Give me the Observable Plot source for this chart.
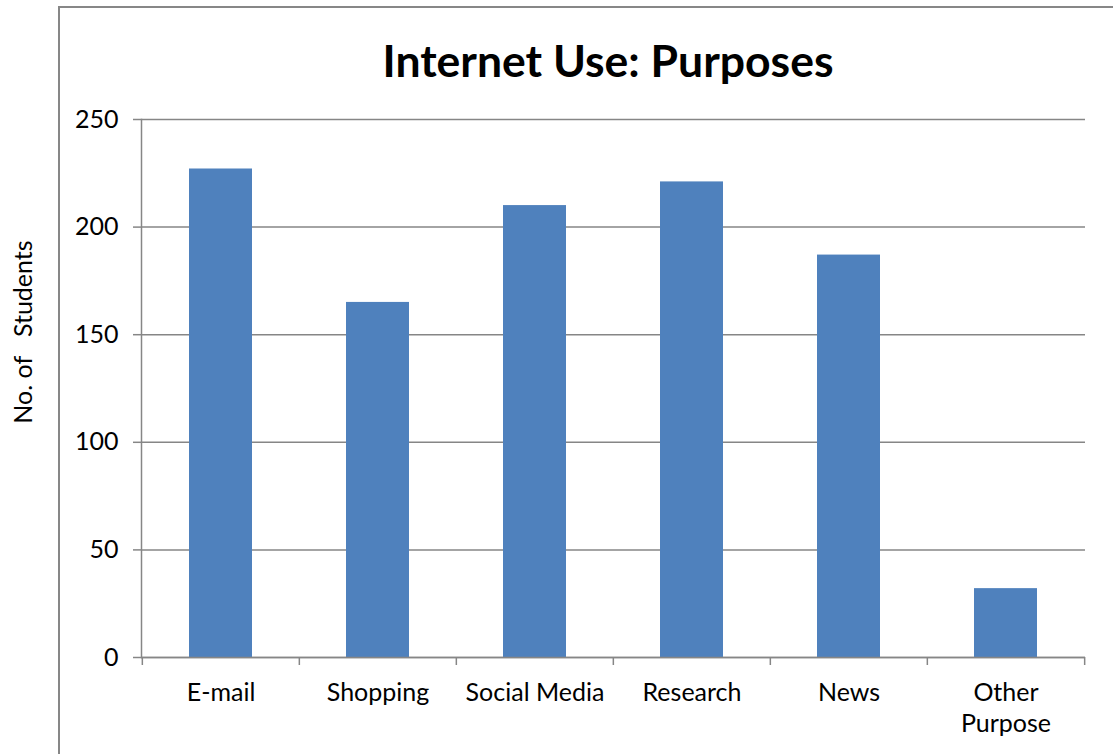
<!DOCTYPE html>
<html><head><meta charset="utf-8">
<script src="https://cdn.jsdelivr.net/npm/d3@7"></script>
<script src="https://cdn.jsdelivr.net/npm/@observablehq/plot@0.6"></script>
<style>
body{margin:0;background:#fff;}
#wrap{position:relative;width:1113px;height:754px;overflow:hidden;font-family:Lato,sans-serif;background:#fff;}
#frame{position:absolute;left:58px;top:6px;width:1200px;height:900px;border:2px solid #878787;box-sizing:border-box;}
#title{position:absolute;left:258px;width:700px;top:38px;text-align:center;font-weight:bold;font-size:44.5px;line-height:1;color:#000;}
#ylab{position:absolute;left:22px;top:332px;transform:translate(-50%,-50%) rotate(-90deg);white-space:pre;font-size:25px;color:#000;}
#chart{position:absolute;left:0;top:0;}
</style></head>
<body>
<div id="wrap">
  <div id="frame"></div>
  <div id="chart"></div>
  <div id="title">Internet Use: Purposes</div>
  <div id="ylab">No. of   Students</div>
</div>
<script>
const categories = ["E-mail","Shopping","Social Media","Research","News","Other Purpose"];
const students = [227,165,210,221,187,32];
const tickLabels = ["E-mail","Shopping","Social Media","Research","News","Other\nPurpose"];
const yTicks = [0,50,100,150,200,250];
const data = categories.map((c,i)=>({category:c, value:students[i]}));

const W=1113, H=754, mL=141, mR=28, mT=119, mB=97;
const step = (W-mL-mR)/categories.length;
const gray = "#868686";

const chart = Plot.plot({
  width:W, height:H, marginLeft:mL, marginRight:mR, marginTop:mT, marginBottom:mB,
  style:{fontFamily:"Lato, sans-serif", fontSize:"25px", color:"#000", background:"transparent", overflow:"visible"},
  x:{domain:categories, paddingInner:0.6, paddingOuter:0.3, label:null},
  y:{domain:[0,250], ticks:yTicks, label:null},
  marks:[
    Plot.gridY(yTicks,{stroke:gray, strokeOpacity:1, strokeWidth:1.5}),
    Plot.barY(data,{x:"category", y:"value", fill:"#4F81BD"}),
    Plot.ruleY([0],{stroke:gray, strokeWidth:1.5}),
    Plot.frame({anchor:"left", stroke:gray, strokeWidth:1.5}),
    Plot.axisY(yTicks,{tickSize:8, tickPadding:15, stroke:gray, strokeWidth:1.5, fill:"#000", fontSize:25}),
    Plot.axisX({tickSize:8, dx:-step/2, stroke:gray, strokeWidth:1.5, fill:"none"}),
    Plot.axisX([categories[categories.length-1]],{tickSize:8, dx:step/2, stroke:gray, strokeWidth:1.5, fill:"none"}),
    Plot.axisX({tickSize:0, tickPadding:21, fill:"#000", fontSize:25, lineHeight:1.25,
      tickFormat: c => tickLabels[categories.indexOf(c)]})
  ]
});
document.getElementById("chart").appendChild(chart);
</script>
</body></html>
